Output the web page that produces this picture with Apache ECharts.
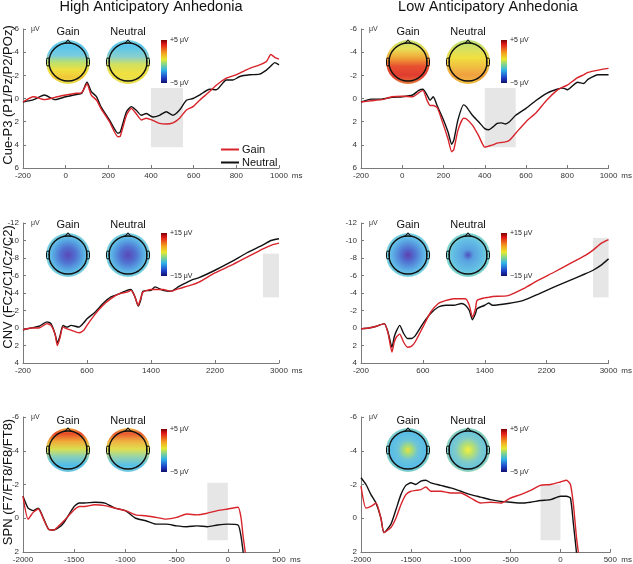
<!DOCTYPE html>
<html>
<head>
<meta charset="utf-8">
<script src="https://cdn.jsdelivr.net/npm/echarts@6/dist/echarts.min.js"></script>
<style>
  html, body { margin: 0; padding: 0; background: #fff; }
  #js-echarts { width: 633px; height: 564px; }
</style>
</head>
<body>
<div id="js-echarts"></div>
<script>
// Cue-P3, high anticipatory anhedonia
const cueHighTime = [-200, -150, -100, -50, 0, 50, 75, 100, 120, 145, 165, 205, 245, 256, 285, 308, 330, 355, 378, 410, 440, 472, 503, 534, 566, 597, 628, 675, 706, 753, 784, 816, 863, 909, 941, 962, 980, 1000];
const cueHighGain = [0.3, -0.15, 0.1, -0.1, -0.3, -0.45, -0.5, -1.25, -0.3, 0.15, 0.85, 2.0, 3.3, 3.25, 1.45, 0.85, 1.3, 1.85, 1.7, 1.9, 2.15, 2.2, 2.1, 1.7, 1.0, 0.7, 0.15, -0.6, -1.15, -1.75, -1.95, -2.2, -2.6, -2.9, -3.2, -3.8, -3.55, -3.4];
const cueHighNeutral = [0.3, 0.1, -0.3, 0.1, -0.15, -0.35, -0.45, -1.4, -0.6, -0.15, 0.7, 1.85, 3.0, 2.9, 1.15, 0.7, 1.0, 1.45, 1.3, 1.6, 1.45, 1.15, 1.45, 1.0, 0.15, 0, -0.3, -0.8, -0.75, -1.6, -1.6, -1.9, -2.05, -2.1, -2.45, -2.8, -3.1, -2.9];

// Cue-P3, low anticipatory anhedonia
const cueLowTime = [-200, -150, -100, -50, 0, 50, 80, 100, 120, 135, 150, 170, 200, 222, 240, 250, 270, 297, 310, 340, 370, 400, 420, 440, 460, 480, 500, 520, 550, 600, 650, 700, 750, 780, 800, 850, 880, 900, 950, 1000];
const cueLowGain = [0.3, 0.2, 0.1, -0.15, -0.2, -0.15, -0.5, -0.7, 0.15, 0.6, 0.6, 0.8, 2.3, 3.5, 4.6, 4.4, 2.75, 1.7, 1.75, 2.3, 3.2, 4.2, 4.1, 4.0, 3.85, 3.8, 3.75, 3.6, 3.0, 2.0, 1.2, 0.15, -0.7, -1.0, -1.15, -1.8, -2.05, -2.25, -2.45, -2.6];
const cueLowNeutral = [0.3, 0.05, 0.05, -0.1, -0.15, -0.3, -0.7, -0.8, -0.3, 0.15, -0.15, 0.65, 1.85, 2.9, 3.95, 3.6, 1.85, 0.55, 0.7, 1.45, 2.0, 2.6, 2.7, 2.45, 2.15, 2.1, 2.2, 2.0, 1.45, 0.85, 0.15, -0.45, -0.8, -0.9, -0.75, -1.4, -1.3, -1.65, -2.05, -2.05];

// CNV, high anticipatory anhedonia
const cnvHighTime = [-200, -100, 0, 100, 150, 200, 230, 260, 300, 350, 400, 500, 560, 600, 700, 800, 900, 1000, 1100, 1150, 1200, 1240, 1270, 1300, 1400, 1450, 1550, 1650, 1750, 1900, 2000, 2200, 2400, 2600, 2800, 2900, 3000];
const cnvHighGain = [0.2, 0, 0, -0.5, -0.3, 0.7, 2.0, 1.2, -0.1, 0.1, 0.25, 0.55, 0.25, -0.3, -1.55, -2.6, -3.35, -3.9, -4.1, -4.3, -3.55, -2.6, -3.35, -4.1, -4.4, -4.4, -4.4, -4.2, -4.5, -4.9, -5.25, -6.3, -7.15, -8.1, -9.05, -9.45, -9.7];
const cnvHighNeutral = [0.2, 0, -0.2, -0.7, -0.5, 0.65, 1.7, 1.0, -0.3, -0.1, -0.3, -0.1, -0.6, -1.05, -1.8, -2.8, -3.55, -3.9, -4.3, -4.4, -3.55, -2.5, -3.15, -4.2, -4.3, -4.7, -4.3, -4.2, -4.75, -5.45, -5.75, -6.6, -7.55, -8.6, -9.5, -10.0, -10.2];

// CNV, low anticipatory anhedonia
const cnvLowTime = [-200, -100, 0, 100, 150, 200, 230, 260, 300, 350, 400, 450, 500, 600, 700, 800, 900, 1000, 1100, 1150, 1200, 1240, 1280, 1300, 1400, 1450, 1500, 1700, 1900, 2100, 2300, 2500, 2700, 2800, 2900, 3000];
const cnvLowGain = [0.1, 0, -0.2, -0.5, 0.6, 2.75, 1.6, 1.0, 0.7, 1.6, 2.2, 2.1, 1.6, -0.1, -1.8, -2.8, -3.15, -3.35, -3.35, -3.35, -2.6, -1.25, -2.2, -3.15, -3.45, -3.5, -3.6, -3.7, -4.5, -5.5, -6.4, -7.35, -8.3, -8.9, -9.65, -10.1];
const cnvLowNeutral = [0.1, 0, -0.2, -0.5, 0.5, 2.2, 1.0, 0.3, -0.3, 0.6, 1.2, 1.2, 0.9, -0.5, -1.65, -2.4, -2.6, -2.6, -2.8, -2.6, -2.0, -0.95, -1.65, -2.2, -2.6, -2.85, -2.6, -2.8, -3.15, -3.9, -4.7, -5.45, -6.2, -6.6, -7.15, -7.9];

// SPN, high anticipatory anhedonia
const spnHighTime = [-2000, -1950, -1900, -1850, -1800, -1750, -1700, -1650, -1600, -1500, -1450, -1400, -1300, -1200, -1100, -1000, -900, -800, -700, -600, -500, -400, -300, -200, -100, 0, 100, 130, 150, 170, 200];
const spnHighGain = [-1.3, 0.05, -0.35, -0.55, 0.05, 0.65, 0.7, 0.45, 0.15, -0.5, -0.7, -0.7, -0.8, -0.75, -0.6, -0.45, -0.2, -0.15, -0.05, 0.05, -0.05, -0.25, -0.2, -0.3, -0.45, -0.55, -0.65, 0, 1.1, 2.0, 4.0];
const spnHighNeutral = [-1.3, -0.6, -0.45, -0.6, 0, 0.65, 0.7, 0.55, 0.25, -0.7, -0.9, -0.9, -0.95, -0.9, -0.6, -0.45, 0, 0.15, 0.35, 0.35, 0.45, 0.5, 0.45, 0.5, 0.4, 0.35, 0.4, 1.1, 2.0, 3.0, 4.0];

// SPN, low anticipatory anhedonia
const spnLowTime = [-2000, -1950, -1900, -1850, -1800, -1770, -1700, -1650, -1600, -1550, -1500, -1450, -1400, -1350, -1300, -1200, -1100, -1000, -900, -800, -700, -600, -500, -400, -300, -200, -100, 0, 60, 100, 130, 160, 190];
const spnLowGain = [-1.9, -0.6, -0.7, -0.9, 0, 0.85, 0.55, 0, -0.8, -1.4, -1.6, -1.65, -1.7, -1.85, -1.6, -1.6, -1.5, -1.5, -1.2, -0.9, -0.95, -0.9, -1.2, -1.4, -1.65, -1.95, -2.0, -2.15, -2.25, -2.0, -0.8, 1.1, 2.5];
const spnLowNeutral = [-2.4, -2.0, -1.4, -0.9, 0, 0.85, 0.35, -0.5, -1.4, -1.95, -2.1, -2.0, -2.2, -2.25, -2.1, -1.95, -1.8, -1.6, -1.4, -1.25, -1.1, -1.0, -0.95, -0.9, -0.95, -1.05, -1.1, -1.3, -1.3, -1.2, 0.35, 2.0, 4.0];

// analysis windows [t0, t1, vTop, vBottom]
const cueHighWindow = [400, 550, -0.9, 4.2];
const cueLowWindow = [400, 550, -0.9, 4.2];
const cnvHighWindow = [2800, 3000, -8.5, -3.5];
const cnvLowWindow = [2800, 3000, -10.3, -3.5];
const spnHighWindow = [-200, 0, -2.1, 1.3];
const spnLowWindow = [-200, 0, -2.0, 1.3];

const chartDom = document.getElementById('js-echarts');
const chart = echarts.init(chartDom);
const FONT = 'Arial, "Liberation Sans", sans-serif';
const RED = '#d8232a';
const BLACK = '#111';

const zip = (t, v) => t.map((x, i) => [x, v[i]]);

const panels = [
  { grid: { left: 23, top: 29, width: 256, height: 139 }, x: [-200, 1000, 200], y: [-6, 6, 2], t: cueHighTime, gain: cueHighGain, neutral: cueHighNeutral, win: cueHighWindow },
  { grid: { left: 361, top: 29, width: 255, height: 139 }, x: [-200, 1000, 200], y: [-6, 6, 2], t: cueLowTime, gain: cueLowGain, neutral: cueLowNeutral, win: cueLowWindow },
  { grid: { left: 23, top: 223, width: 256, height: 140 }, x: [-200, 3000, 800], y: [-12, 4, 2], t: cnvHighTime, gain: cnvHighGain, neutral: cnvHighNeutral, win: cnvHighWindow },
  { grid: { left: 361, top: 223, width: 255, height: 140 }, x: [-200, 3000, 800], y: [-12, 4, 2], t: cnvLowTime, gain: cnvLowGain, neutral: cnvLowNeutral, win: cnvLowWindow },
  { grid: { left: 23, top: 417, width: 256, height: 138 }, x: [-2000, 500, 500], y: [-6, 2, 2], t: spnHighTime, gain: spnHighGain, neutral: spnHighNeutral, win: spnHighWindow },
  { grid: { left: 361, top: 417, width: 255, height: 138 }, x: [-2000, 500, 500], y: [-6, 2, 2], t: spnLowTime, gain: spnLowGain, neutral: spnLowNeutral, win: spnLowWindow }
];

const axisColor = '#7a7a7a';
const plain = (v) => String(v);
const grids = [], xAxes = [], yAxes = [], series = [];
panels.forEach((p, i) => {
  grids.push(p.grid);
  xAxes.push({
    type: 'value', gridIndex: i, min: p.x[0], max: p.x[1], interval: p.x[2],
    name: 'ms', nameLocation: 'end', nameGap: 11,
    nameTextStyle: { fontSize: 8, color: '#333', fontFamily: FONT, verticalAlign: 'top', padding: [4, 0, 0, 0] },
    axisLine: { onZero: false, lineStyle: { color: axisColor } },
    axisTick: { inside: true, length: 3, lineStyle: { color: axisColor } },
    axisLabel: { fontSize: 8, color: '#333', fontFamily: FONT, margin: 4, formatter: plain },
    splitLine: { show: false }
  });
  yAxes.push({
    type: 'value', gridIndex: i, inverse: true, min: p.y[0], max: p.y[1], interval: p.y[2],
    axisLine: { show: true, onZero: false, lineStyle: { color: axisColor } },
    axisTick: { show: true, inside: true, length: 3, lineStyle: { color: axisColor } },
    axisLabel: { fontSize: 8, color: '#333', fontFamily: FONT, margin: 4, formatter: plain },
    splitLine: { show: false }
  });
  const w = p.win;
  series.push({
    name: 'window', type: 'line', xAxisIndex: i, yAxisIndex: i, z: 1, silent: true,
    data: zip(p.t, p.neutral), showSymbol: false, lineStyle: { opacity: 0 },
    markArea: {
      silent: true, itemStyle: { color: '#e6e6e6' },
      data: [[{ xAxis: w[0], yAxis: w[2] }, { xAxis: w[1], yAxis: w[3] }]]
    }
  });
  series.push({
    name: 'Neutral', type: 'line', xAxisIndex: i, yAxisIndex: i, z: 2,
    data: zip(p.t, p.neutral), showSymbol: false, smooth: 0.2,
    lineStyle: { color: BLACK, width: 1.4 }, itemStyle: { color: BLACK }
  });
  series.push({
    name: 'Gain', type: 'line', xAxisIndex: i, yAxisIndex: i, z: 3,
    data: zip(p.t, p.gain), showSymbol: false, smooth: 0.2,
    lineStyle: { color: RED, width: 1.4 }, itemStyle: { color: RED }
  });
});

// scalp maps (decoration, as in the source figure)
const lin = (stops) => ({ type: 'linear', x: 0, y: 0, x2: 0, y2: 1, colorStops: stops.map(([o, c]) => ({ offset: o, color: c })) });
const rad = (stops) => ({ type: 'radial', x: 0.5, y: 0.5, r: 0.5, colorStops: stops.map(([o, c]) => ({ offset: o, color: c })) });

function head(cx, cy, fill) {
  return {
    type: 'group', x: cx, y: cy, silent: true,
    children: [
      { type: 'circle', shape: { r: 22 }, style: { fill: fill } },
      { type: 'circle', shape: { r: 19 }, style: { fill: null, stroke: '#111', lineWidth: 1.4 } },
      { type: 'polyline', shape: { points: [[-3, -18.6], [0, -22], [3, -18.6]] }, style: { stroke: '#111', lineWidth: 1.1, fill: null } },
      { type: 'rect', shape: { x: -21.5, y: -4, width: 3, height: 8, r: 1.5 }, style: { fill: null, stroke: '#111', lineWidth: 1 } },
      { type: 'rect', shape: { x: 18.5, y: -4, width: 3, height: 8, r: 1.5 }, style: { fill: null, stroke: '#111', lineWidth: 1 } }
    ]
  };
}

const jet = lin([[0, '#7a0000'], [0.1, '#e01818'], [0.3, '#f4a020'], [0.45, '#e8e830'], [0.55, '#90d880'], [0.7, '#30b4e8'], [0.88, '#2040c8'], [1, '#10106a']]);

function colorbar(x, y, top, bottom) {
  return [
    { type: 'rect', silent: true, shape: { x: x, y: y, width: 6, height: 43 }, style: { fill: jet } },
    { type: 'text', silent: true, x: x + 9, y: y, style: { text: top, fontSize: 7, fill: '#222', fontFamily: FONT, verticalAlign: 'middle' } },
    { type: 'text', silent: true, x: x + 9, y: y + 43, style: { text: bottom, fontSize: 7, fill: '#222', fontFamily: FONT, verticalAlign: 'middle' } }
  ];
}

function label(x, y, text, size) {
  return { type: 'text', silent: true, x: x, y: y, style: { text: text, fontSize: size, fill: '#111', fontFamily: FONT, align: 'center', verticalAlign: 'middle' } };
}

function sideLabel(y, text) {
  return { type: 'text', silent: true, x: 8, y: y, rotation: Math.PI / 2, style: { text: text, fontSize: 13, fill: '#111', fontFamily: FONT, align: 'center', verticalAlign: 'middle' } };
}

const graphics = [
  label(151, 7, 'High Anticipatory Anhedonia', 14.5),
  label(488, 7, 'Low Anticipatory Anhedonia', 14.5),
  sideLabel(95, 'Cue-P3 (P1/Pz/P2/POz)'),
  sideLabel(287, 'CNV (FCz/C1/Cz/C2)'),
  sideLabel(482, 'SPN (F7/FT8/F8/FT8)')
];
panels.forEach((p) => {
  graphics.push({ type: 'text', silent: true, x: p.grid.left + 8, y: p.grid.top, style: { text: 'μV', fontSize: 7, fill: '#333', fontFamily: FONT, verticalAlign: 'middle' } });
});

const mapRows = [
  { y: 62, labelY: 32, top: '+5 μV', bottom: '−5 μV', barY: 40 },
  { y: 255, labelY: 225, top: '+15 μV', bottom: '−15 μV', barY: 233 },
  { y: 450, labelY: 421, top: '+5 μV', bottom: '−5 μV', barY: 429 }
];
const mapFills = [
  [lin([[0, '#80d4e4'], [0.15, '#58c4ec'], [0.35, '#78cce0'], [0.5, '#b8e070'], [0.68, '#f0e040'], [0.85, '#f0c838'], [1, '#e8e050']]),
   lin([[0, '#80d4e4'], [0.15, '#58c4ec'], [0.38, '#88d0cc'], [0.55, '#d0e060'], [0.75, '#f0e040'], [1, '#e8e050']]),
   lin([[0, '#c8e070'], [0.2, '#e8e058'], [0.4, '#f0a838'], [0.6, '#e85030'], [0.8, '#e03c30'], [1, '#e87838']]),
   lin([[0, '#b8e070'], [0.22, '#d8e060'], [0.4, '#f0e040'], [0.6, '#f0c040'], [0.8, '#f0a040'], [1, '#f0c040']])],
  [rad([[0, '#5a48b8'], [0.35, '#5070d0'], [0.7, '#58ace4'], [0.9, '#6cc8e4'], [1, '#80d4dc']]),
   rad([[0, '#5a48b8'], [0.35, '#5070d0'], [0.7, '#58ace4'], [0.9, '#6cc8e4'], [1, '#80d4dc']]),
   rad([[0, '#6040b0'], [0.3, '#5070d0'], [0.7, '#5cb0e6'], [0.9, '#6cc8e4'], [1, '#80d4dc']]),
   rad([[0, '#5050c0'], [0.25, '#58a0e0'], [0.7, '#64c0e4'], [1, '#80d8cc']])],
  [lin([[0, '#f0b040'], [0.12, '#e84828'], [0.3, '#f0a838'], [0.48, '#d8e050'], [0.65, '#88d0b8'], [0.85, '#50bce8'], [1, '#70c8e0']]),
   lin([[0, '#f0c040'], [0.12, '#e85830'], [0.3, '#f0b040'], [0.48, '#e0e050'], [0.65, '#98d4a8'], [0.85, '#58c0e8'], [1, '#78cce0']]),
   rad([[0, '#e8e040'], [0.18, '#a8dc78'], [0.45, '#6cc4d8'], [0.8, '#58bce8'], [1, '#88d4c8']]),
   rad([[0, '#f4f040'], [0.25, '#b8e070'], [0.55, '#80ccc8'], [0.85, '#68c4dc'], [1, '#98d8b8']])]
];
mapRows.forEach((r, ri) => {
  [0, 1].forEach((side) => {
    const off = side === 0 ? 0 : 340;
    graphics.push(label(68 + off, r.labelY, 'Gain', 11));
    graphics.push(label(128 + off, r.labelY, 'Neutral', 11));
    graphics.push(head(68 + off, r.y, mapFills[ri][side * 2]));
    graphics.push(head(128 + off, r.y, mapFills[ri][side * 2 + 1]));
    colorbar(161 + off, r.barY, r.top, r.bottom).forEach((g) => graphics.push(g));
  });
});

const option = {
  animation: false,
  backgroundColor: '#fff',
  grid: grids,
  xAxis: xAxes,
  yAxis: yAxes,
  legend: {
    data: ['Gain', 'Neutral'],
    orient: 'vertical', left: 216, top: 139,
    icon: 'rect', itemWidth: 18, itemHeight: 2, itemGap: 2,
    textStyle: { fontSize: 11, color: '#111', fontFamily: FONT, padding: [0, 0, 0, -2] },
    selectedMode: false
  },
  series: series,
  graphic: graphics
};

chart.setOption(option);
</script>
</body>
</html>
